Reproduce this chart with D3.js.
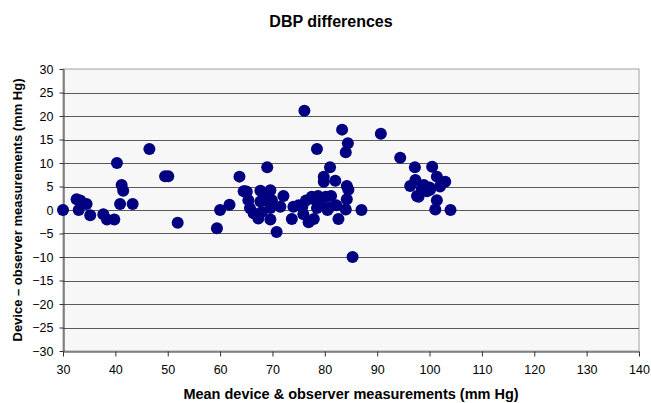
<!DOCTYPE html>
<html>
<head>
<meta charset="utf-8">
<script src="https://cdn.jsdelivr.net/npm/d3@7"></script>
<style>
  body { margin: 0; background: #fff; }
  text { font-family: "Liberation Sans", Arial, sans-serif; }
</style>
</head>
<body>
<div id="chart"></div>
<script>
const width = 651, height = 403,
    margin = ({ top: 69, right: 12, bottom: 52, left: 63 });

// mean of device & observer (x) and device - observer (y)
const meanValues = [30, 32.6, 33.3, 33, 34.5, 35.2, 37.7, 38.4, 39.8, 40.3, 41.2, 41.5, 40.9, 43.3,
  46.5, 49.5, 50.1, 51.9, 59.4, 60, 61.8, 63.7, 64.5, 64.8, 65.4, 65.7, 66.4, 67.3, 67.7, 68, 68.9,
  69, 69.6, 69.6, 69.6, 69.9, 70.8, 71.5, 72.1, 73.7, 74, 75, 75.7, 75.9, 76.1, 76.4, 76.9, 77.5,
  77.9, 78.5, 78.5, 78.7, 79.1, 79.8, 79.8, 80.2, 80.5, 81, 81.2, 82, 82.2, 82.6, 83.3, 84, 84,
  84.2, 84.2, 84.4, 84.5, 85.3, 87, 90.7, 94.4, 96.3, 97.2, 97.3, 97.6, 97.9, 98.5, 98.9, 99.5,
  100, 100.1, 100.5, 101.1, 101.4, 101.4, 102, 103, 104, 67.7, 69.2, 65.1, 78.3, 80.8];
const diffValues = [0, 2.3, 2, 0, 1.3, -1.1, -0.9, -2, -2, 10, 5.3, 4.1, 1.3, 1.3,
  13, 7.2, 7.2, -2.7, -3.9, 0, 1.1, 7.1, 4, 4, 2.1, 0.4, -0.7, -1.8, 4.1, -0.4, 2.8,
  9.1, 4.2, 0.4, -2, 2.1, -4.7, 0.7, 3, -1.9, 0.7, 1, 0.7, -0.9, 21.1, 2, -2.6, 2.8,
  -1.9, 13, 0.4, 3, 1.8, 7.1, 6, 2.8, 0, 9.1, 3, 6.2, 1, -1.9, 17.1, 12.3, 0.1,
  5.1, 2.3, 14.2, 4.3, -10, 0, 16.2, 11.1, 5.1, 9.1, 6.4, 3, 2.8, 4.5, 5.3, 4,
  4.8, 4.3, 9.2, 0.1, 7.1, 2.1, 5, 6, 0, 1.8, 1.8, 3.9, 2, 0.5];
const xTicks = d3.range(30, 141, 10);
const yTicks = d3.range(-30, 31, 5);

const svg = d3.select("#chart")
    .append("svg")
    .attr("width", width)
    .attr("height", height);

let x = d3.scaleLinear()
    .domain([30, 140])
    .range([margin.left, width - margin.right]);

let y = d3.scaleLinear()
    .domain([-30, 30])
    .range([height - margin.bottom, margin.top]);

// plot area
svg.append("rect")
    .attr("x", x(30))
    .attr("y", y(30))
    .attr("width", x(140) - x(30))
    .attr("height", y(-30) - y(30))
    .attr("fill", "#f7f7f7")
    .attr("stroke", "#a0a0a0");

// horizontal gridlines
svg.append("g")
    .selectAll("line")
    .data(yTicks.filter(d => d > -30 && d < 30))
    .join("line")
    .attr("x1", x(30))
    .attr("x2", x(140))
    .attr("y1", d => Math.round(y(d)) + 0.5)
    .attr("y2", d => Math.round(y(d)) + 0.5)
    .attr("stroke", "#5a5a5a");

svg.append("g")
    .attr("transform", `translate(0,${Math.round(y(-30)) + 0.5})`)
    .call(d3.axisBottom(x).tickValues(xTicks).tickSize(5).tickPadding(9).tickSizeOuter(0))
    .call(g => g.selectAll("text").attr("font-size", 12.5).attr("fill", "#000")
        .attr("font-family", "Liberation Sans, Arial, sans-serif"))
    .call(g => g.selectAll("line, path").attr("stroke", "#333"));

svg.append("g")
    .attr("transform", `translate(${Math.round(x(30)) + 0.5},0)`)
    .call(d3.axisLeft(y).tickValues(yTicks).tickSize(4).tickPadding(6).tickSizeOuter(0))
    .call(g => g.selectAll("text").attr("font-size", 12.5).attr("fill", "#000")
        .attr("font-family", "Liberation Sans, Arial, sans-serif"))
    .call(g => g.selectAll("line, path").attr("stroke", "#333"));

// points
svg.append("g")
    .selectAll("circle")
    .data(meanValues.map((m, i) => [m, diffValues[i]]))
    .join("circle")
    .attr("cx", d => x(d[0]))
    .attr("cy", d => y(d[1]))
    .attr("r", 6)
    .attr("fill", "#000080");

svg.append("text")
    .attr("x", 331)
    .attr("y", 27)
    .attr("text-anchor", "middle")
    .attr("font-size", 16)
    .attr("font-weight", "bold")
    .text("DBP differences");

svg.append("text")
    .attr("x", (x(30) + x(140)) / 2)
    .attr("y", 399)
    .attr("text-anchor", "middle")
    .attr("font-size", 14.5)
    .attr("font-weight", "bold")
    .text("Mean device & observer measurements (mm Hg)");

svg.append("text")
    .attr("transform", `translate(22,${y(0)}) rotate(-90)`)
    .attr("text-anchor", "middle")
    .attr("font-size", 13)
    .attr("font-weight", "bold")
    .text("Device \u2013 observer measurements (mm Hg)");
</script>
</body>
</html>
